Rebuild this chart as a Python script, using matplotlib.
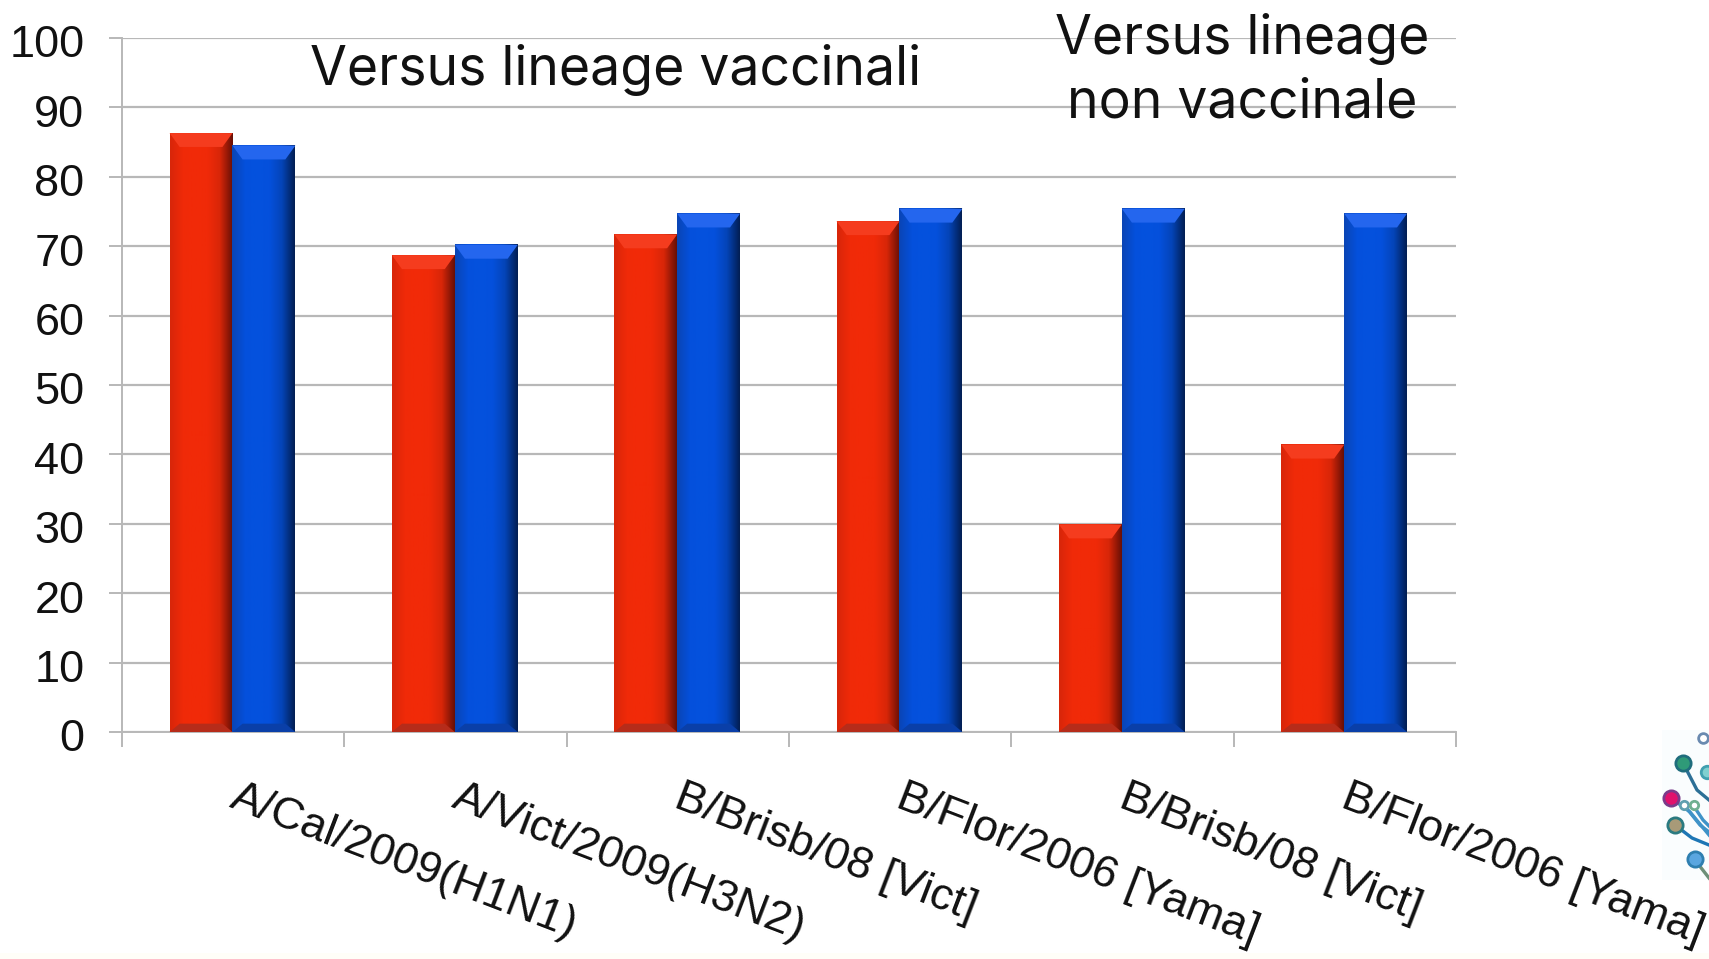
import numpy as np
import matplotlib.pyplot as plt
from matplotlib.colors import LinearSegmentedColormap
from matplotlib.patches import Polygon, Rectangle
from matplotlib.transforms import ScaledTranslation

labels = ["A/Cal/2009(H1N1)", "A/Vict/2009(H3N2)", "B/Brisb/08 [Vict]",
          "B/Flor/2006 [Yama]", "B/Brisb/08 [Vict]", "B/Flor/2006 [Yama]"]
red_vals = [86.3, 68.7, 71.7, 73.6, 29.9, 41.4]
blue_vals = [84.5, 70.2, 74.7, 75.4, 75.4, 74.7]
yticks = list(range(0, 101, 10))

W, H = 1709, 959
plt.rcParams["font.family"] = ["Liberation Sans"]
fig = plt.figure(figsize=(W / 100, H / 100), dpi=100, facecolor="white")
ax = fig.add_axes([122 / W, 1 - 732 / H, (1456 - 122) / W, (732 - 38) / H])

bar_w = 0.283
red_cm = LinearSegmentedColormap.from_list("r", ["#d8260a", "#f02a08", "#f22a08", "#f02a08", "#d82608", "#6a1006"])
blue_cm = LinearSegmentedColormap.from_list("b", ["#0a45b5", "#0450dc", "#0452de", "#0450dc", "#0444b8", "#021f55"])
grad = np.linspace(0, 1, 64).reshape(1, -1)


# one bar: flat bar, gradient over it, then the bevels at top and bottom
def draw_bar(left, val, cm, top_col, bot_col):
    ax.bar(left, val, bar_w, align="edge", color=cm(0.3), zorder=3)
    ax.imshow(grad, cmap=cm, extent=[left, left + bar_w, 0, val], aspect="auto", zorder=4)
    d = bar_w * 0.16
    h = 2.0
    ax.add_patch(Polygon([(left, val), (left + bar_w, val), (left + bar_w - d, val - h), (left + d, val - h)],
                         color=top_col, lw=0, zorder=5))
    ax.add_patch(Polygon([(left, 0), (left + bar_w, 0), (left + bar_w - d, 1.2), (left + d, 1.2)],
                         color=bot_col, lw=0, zorder=5))


for i in range(6):
    c = i + 0.5
    draw_bar(c - bar_w - 0.003, red_vals[i], red_cm, "#f53c1e", "#b62c1a")
    draw_bar(c - 0.003, blue_vals[i], blue_cm, "#2466ee", "#0a3fa8")

ax.set_xlim(0, 6)
ax.set_ylim(0, 100)
ax.set_yticks(yticks)
ax.set_xticks(range(7))
ax.set_xticklabels([])
ax.grid(axis="y", color="#b8b8b8", lw=1.6, zorder=1)
ax.set_axisbelow(True)
for s in ["top", "right"]:
    ax.spines[s].set_visible(False)
for s in ["left", "bottom"]:
    ax.spines[s].set_color("#b8b8b8")
    ax.spines[s].set_linewidth(1.4)
ax.tick_params(axis="y", length=9.5, width=1.4, color="#b8b8b8", labelsize=32.5, pad=17.5)
ax.tick_params(axis="x", length=11, width=1.4, color="#b8b8b8")
# the numbers sit a little under their gridlines
shift = ScaledTranslation(0, -2.5 / 72, fig.dpi_scale_trans)
for t in ax.get_yticklabels():
    t.set_color("#111111")
    t.set_transform(t.get_transform() + shift)

# rotated category labels, anchored on their left end
for i, lab in enumerate(labels):
    ax.annotate(lab, xy=(i + 0.5, 0), xycoords=("data", "axes fraction"),
                xytext=(-1, -46), textcoords="offset points", rotation=-21,
                rotation_mode="anchor", ha="left", va="center", fontsize=32.4, color="#111111")

head_font = ["Inter", "DejaVu Sans"]
ax.text(0.370, 0.954, "Versus lineage vaccinali", transform=ax.transAxes, family=head_font,
        fontsize=38.5, color="#111111", ha="center", va="center", zorder=6)
ax.text(0.840, 0.953, "Versus lineage\nnon vaccinale", transform=ax.transAxes, family=head_font,
        fontsize=38.5, color="#111111", ha="center", va="center",
        linespacing=1.3, zorder=6, clip_on=False)

# small circuit logo cut by the right edge, faint band along the bottom
ov = fig.add_axes([0, 0, 1, 1], facecolor="none")
ov.set_xlim(0, W)
ov.set_ylim(H, 0)
ov.axis("off")
ov.add_patch(Rectangle((1662, 730), 47, 150, color="#fafdfe", lw=0, zorder=0))
ov.add_patch(Rectangle((0, 953), W, 6, color="#fffef8", lw=0, zorder=0))
for path, col in [([(1683, 763), (1697, 790), (1709, 800)], "#2c6f96"),
                  ([(1671, 798), (1690, 812), (1709, 835)], "#3f93c8"),
                  ([(1684, 805), (1700, 825), (1709, 832)], "#3f93c8"),
                  ([(1693, 805), (1703, 820), (1709, 826)], "#3f93c8"),
                  ([(1675, 825), (1692, 838), (1709, 845)], "#1d76b5"),
                  ([(1695, 860), (1709, 878)], "#6d8f78")]:
    ov.plot(*zip(*path), color=col, lw=2.4)
for x, y, col, edge, ms in [(1683, 763, "#2f9a78", "#1f6d7d", 11), (1671, 798, "#e0116d", "#7a3a8a", 11),
                            (1675, 825, "#a89a78", "#2a7a80", 11), (1695, 859, "#5aa6e0", "#2e7fb0", 11),
                            (1703, 738, "#ffffff", "#6a8ab0", 7), (1707, 772, "#7fd0d0", "#40a0b0", 9),
                            (1684, 805, "#ffffff", "#60a0b0", 6), (1694, 805, "#ffffff", "#70b090", 6)]:
    ov.plot(x, y, "o", ms=ms, mfc=col, mec=edge, mew=2)

fig.savefig("out.png", dpi=100)
